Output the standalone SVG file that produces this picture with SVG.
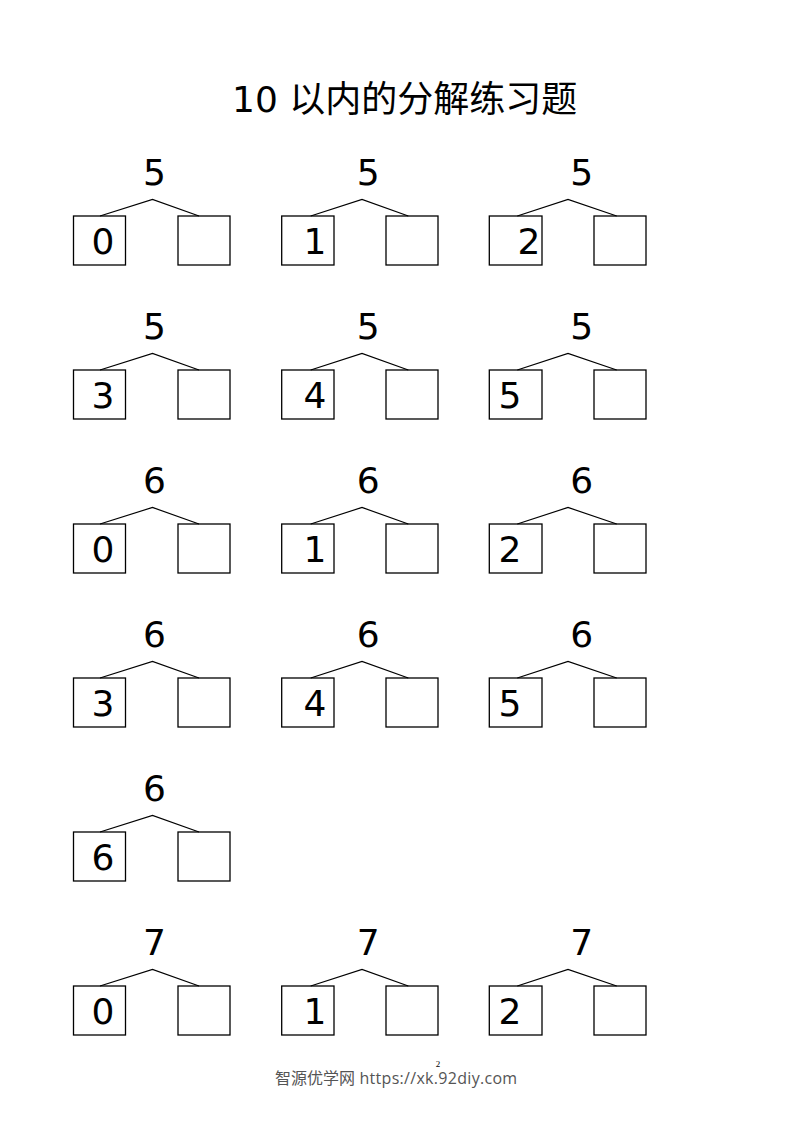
<svg xmlns="http://www.w3.org/2000/svg" width="793" height="1122" viewBox="0 0 793 1122">
<style>
.bx{fill:none;stroke:#000;stroke-width:1.3}
.ln{fill:none;stroke:#000;stroke-width:1.3}
.n{font-family:"DejaVu Sans","Noto Sans",sans-serif;font-size:36px;fill:#000;text-anchor:middle}
.t{font-family:"DejaVu Sans","Noto Sans CJK SC",sans-serif;font-size:36px;fill:#000}
.f{font-family:"Open Sans","Noto Sans CJK SC",sans-serif;font-size:16px;fill:#555}
</style>
<rect width="793" height="1122" fill="#fff"/>
<text class="t" x="232" y="112">10 以内的分解练习题</text>

<g id="connectors">
<path class="ln" d="M100,216 L152.5,199.5 L199,216"/>
<path class="ln" d="M310.7,216 L362,199.5 L408.3,216"/>
<path class="ln" d="M517.3,216 L568,199.5 L616.7,216"/>
<path class="ln" d="M100,370 L152.5,353.5 L199,370"/>
<path class="ln" d="M310.7,370 L362,353.5 L408.3,370"/>
<path class="ln" d="M517.3,370 L568,353.5 L616.7,370"/>
<path class="ln" d="M100,524 L152.5,507.5 L199,524"/>
<path class="ln" d="M310.7,524 L362,507.5 L408.3,524"/>
<path class="ln" d="M517.3,524 L568,507.5 L616.7,524"/>
<path class="ln" d="M100,678 L152.5,661.5 L199,678"/>
<path class="ln" d="M310.7,678 L362,661.5 L408.3,678"/>
<path class="ln" d="M517.3,678 L568,661.5 L616.7,678"/>
<path class="ln" d="M100,832 L152.5,815.5 L199,832"/>
<path class="ln" d="M100,986 L152.5,969.5 L199,986"/>
<path class="ln" d="M310.7,986 L362,969.5 L408.3,986"/>
<path class="ln" d="M517.3,986 L568,969.5 L616.7,986"/>
</g>

<!-- Row 1 -->
<g id="t1">
<text class="n" x="154.5" y="185">5</text>
<rect class="bx" x="73.5" y="216" width="52" height="49"/><text class="n" x="103" y="254">0</text>
<rect class="bx" x="178" y="216" width="52" height="49"/>
</g>
<g id="t2">
<text class="n" x="368.3" y="185">5</text>
<rect class="bx" x="281.7" y="216" width="52.3" height="49"/><text class="n" x="315" y="254">1</text>
<rect class="bx" x="386" y="216" width="52" height="49"/>
</g>
<g id="t3">
<text class="n" x="581.7" y="185">5</text>
<rect class="bx" x="489.3" y="216" width="52.7" height="49"/><text class="n" x="529" y="254">2</text>
<rect class="bx" x="594" y="216" width="52" height="49"/>
</g>

<!-- Row 2 -->
<g id="t4">
<text class="n" x="154.5" y="339">5</text>
<rect class="bx" x="73.5" y="370" width="52" height="49"/><text class="n" x="103" y="408">3</text>
<rect class="bx" x="178" y="370" width="52" height="49"/>
</g>
<g id="t5">
<text class="n" x="368.3" y="339">5</text>
<rect class="bx" x="281.7" y="370" width="52.3" height="49"/><text class="n" x="315" y="408">4</text>
<rect class="bx" x="386" y="370" width="52" height="49"/>
</g>
<g id="t6">
<text class="n" x="581.7" y="339">5</text>
<rect class="bx" x="489.3" y="370" width="52.7" height="49"/><text class="n" x="510" y="408">5</text>
<rect class="bx" x="594" y="370" width="52" height="49"/>
</g>

<!-- Row 3 -->
<g id="t7">
<text class="n" x="154.5" y="493">6</text>
<rect class="bx" x="73.5" y="524" width="52" height="49"/><text class="n" x="103" y="562">0</text>
<rect class="bx" x="178" y="524" width="52" height="49"/>
</g>
<g id="t8">
<text class="n" x="368.3" y="493">6</text>
<rect class="bx" x="281.7" y="524" width="52.3" height="49"/><text class="n" x="315" y="562">1</text>
<rect class="bx" x="386" y="524" width="52" height="49"/>
</g>
<g id="t9">
<text class="n" x="581.7" y="493">6</text>
<rect class="bx" x="489.3" y="524" width="52.7" height="49"/><text class="n" x="510" y="562">2</text>
<rect class="bx" x="594" y="524" width="52" height="49"/>
</g>

<!-- Row 4 -->
<g id="t10">
<text class="n" x="154.5" y="647">6</text>
<rect class="bx" x="73.5" y="678" width="52" height="49"/><text class="n" x="103" y="716">3</text>
<rect class="bx" x="178" y="678" width="52" height="49"/>
</g>
<g id="t11">
<text class="n" x="368.3" y="647">6</text>
<rect class="bx" x="281.7" y="678" width="52.3" height="49"/><text class="n" x="315" y="716">4</text>
<rect class="bx" x="386" y="678" width="52" height="49"/>
</g>
<g id="t12">
<text class="n" x="581.7" y="647">6</text>
<rect class="bx" x="489.3" y="678" width="52.7" height="49"/><text class="n" x="510" y="716">5</text>
<rect class="bx" x="594" y="678" width="52" height="49"/>
</g>

<!-- Row 5 -->
<g id="t13">
<text class="n" x="154.5" y="801">6</text>
<rect class="bx" x="73.5" y="832" width="52" height="49"/><text class="n" x="103" y="870">6</text>
<rect class="bx" x="178" y="832" width="52" height="49"/>
</g>

<!-- Row 6 -->
<g id="t14">
<text class="n" x="154.5" y="955">7</text>
<rect class="bx" x="73.5" y="986" width="52" height="49"/><text class="n" x="103" y="1024">0</text>
<rect class="bx" x="178" y="986" width="52" height="49"/>
</g>
<g id="t15">
<text class="n" x="368.3" y="955">7</text>
<rect class="bx" x="281.7" y="986" width="52.3" height="49"/><text class="n" x="315" y="1024">1</text>
<rect class="bx" x="386" y="986" width="52" height="49"/>
</g>
<g id="t16">
<text class="n" x="581.7" y="955">7</text>
<rect class="bx" x="489.3" y="986" width="52.7" height="49"/><text class="n" x="510" y="1024">2</text>
<rect class="bx" x="594" y="986" width="52" height="49"/>
</g>

<text x="438" y="1067" font-family="Liberation Serif,serif" font-size="9" fill="#000" text-anchor="middle">2</text>
<text class="f" x="275" y="1084">智源优学网<tspan letter-spacing="0.3"> https://xk.92diy.com</tspan></text>
</svg>
